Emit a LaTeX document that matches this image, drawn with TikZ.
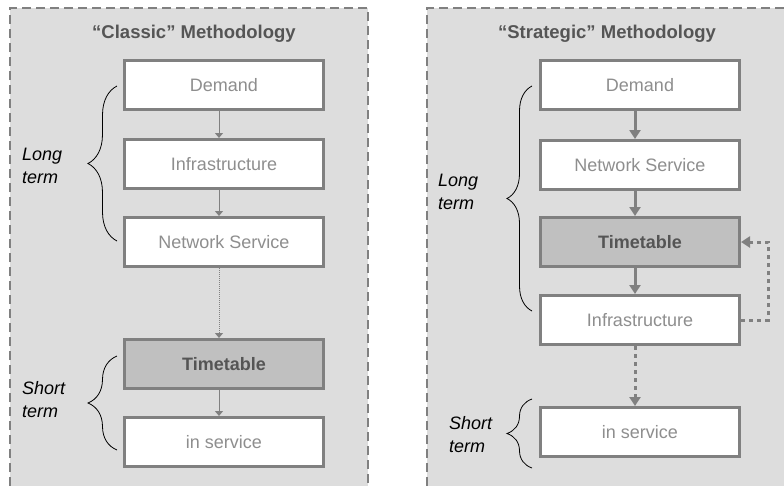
\documentclass[tikz,border=0pt]{standalone}
\usepackage{fontspec}
\setmainfont{Liberation Sans}
\usetikzlibrary{arrows.meta,decorations.pathreplacing}
\definecolor{panelbg}{HTML}{DDDDDD}
\definecolor{edgegrey}{HTML}{808080}
\definecolor{ttfill}{HTML}{C0C0C0}
\definecolor{boxtext}{HTML}{8E8E8E}
\definecolor{boldtext}{HTML}{555555}
\tikzset{
  panel/.style={fill=panelbg, draw=edgegrey, line width=1.8pt, dash pattern=on 9pt off 5pt},
  stagebox/.style={draw=edgegrey, fill=white, line width=3pt, minimum width=199pt,
    minimum height=49pt, inner sep=0pt, text=boxtext, font=\fontsize{18}{20}\selectfont},
  ttbox/.style={stagebox, fill=ttfill, text=boldtext, font=\fontsize{18}{20}\selectfont\bfseries},
  paneltitle/.style={text=boldtext, font=\fontsize{18.5}{20}\selectfont\bfseries},
  termlabel/.style={font=\fontsize{18}{23}\selectfont\itshape, align=left, anchor=west, inner sep=0pt},
  termbrace/.style={draw=black, line width=0.8pt, decorate, decoration={brace, amplitude=#1, aspect=0.5}},
  thinflow/.style={draw=edgegrey, line width=1pt, -{Triangle[length=5pt,width=8pt]}},
  thinwait/.style={thinflow, dash pattern=on 1pt off 1pt},
  boldflow/.style={draw=edgegrey, line width=3pt, -{Triangle[length=9pt,width=11pt]}},
  boldwait/.style={boldflow, dash pattern=on 4pt off 4pt},
}
\begin{document}
\begin{tikzpicture}[x=1pt, y=-1pt]
\useasboundingbox (0,0) rectangle (784,485);
\clip (0,0) rectangle (784,485);

% background panels (open at the picture's edges)
\fill[panelbg] (10,8) rectangle (368,500);
\draw[panel, fill=none] (10,500) -- (10,8) -- (368,8) -- (368,500);
\fill[panelbg] (427,8) rectangle (800,500);
\draw[panel, fill=none] (427,500) -- (427,8) -- (800,8);

% ---- classic methodology ----
\node[paneltitle] (ctitle) at (194,34) {“Classic” Methodology};
\node[stagebox] (cdem) at (224,85) {Demand};
\node[stagebox] (cinf) at (224,164) {Infrastructure};
\node[stagebox] (cnet) at (224,242) {Network Service};
\node[ttbox] (ctt) at (224,364) {Timetable};
\node[stagebox] (csrv) at (224,442) {in service};

\draw[thinflow] ([xshift=-5pt]cdem.south) -- ([xshift=-5pt]cinf.north);
\draw[thinflow] ([xshift=-5pt]cinf.south) -- ([xshift=-5pt]cnet.north);
\draw[thinwait] ([xshift=-5pt]cnet.south) -- ([xshift=-5pt]ctt.north);
\draw[thinflow] ([xshift=-5pt]ctt.south) -- ([xshift=-5pt]csrv.north);

\coordinate (clt) at (117,86);
\coordinate (clb) at (117,241);
\coordinate (cst) at (117,356);
\coordinate (csb) at (117,450);
\draw[termbrace=29pt] (clb) -- (clt);
\draw[termbrace=29pt] (csb) -- (cst);
\node[termlabel] (clong) at (22,166) {Long\\term};
\node[termlabel] (cshort) at (22,400) {Short\\term};

% ---- strategic methodology ----
\node[paneltitle] (stitle) at (607,34) {“Strategic” Methodology};
\node[stagebox] (sdem) at (640,85) {Demand};
\node[stagebox] (snet) at (640,165) {Network Service};
\node[ttbox] (stt) at (640,242) {Timetable};
\node[stagebox] (sinf) at (640,320) {Infrastructure};
\node[stagebox] (ssrv) at (640,432) {in service};

\draw[boldflow] ([xshift=-5pt]sdem.south) -- ([xshift=-5pt]snet.north);
\draw[boldflow] ([xshift=-5pt]snet.south) -- ([xshift=-5pt]stt.north);
\draw[boldflow] ([xshift=-5pt]stt.south) -- ([xshift=-5pt]sinf.north);
\draw[boldwait] ([xshift=-5pt]sinf.south) -- ([xshift=-5pt]ssrv.north);
\draw[boldwait] (sinf.east) -- ++(27pt,0) |- (stt.east);

\coordinate (slt) at (532,86);
\coordinate (slb) at (532,311);
\coordinate (sst) at (532,399);
\coordinate (ssb) at (532,468);
\draw[termbrace=25pt] (slb) -- (slt);
\draw[termbrace=25pt] (ssb) -- (sst);
\node[termlabel] (slong) at (438,192) {Long\\term};
\node[termlabel] (sshort) at (449,435) {Short\\term};
\end{tikzpicture}
\end{document}
